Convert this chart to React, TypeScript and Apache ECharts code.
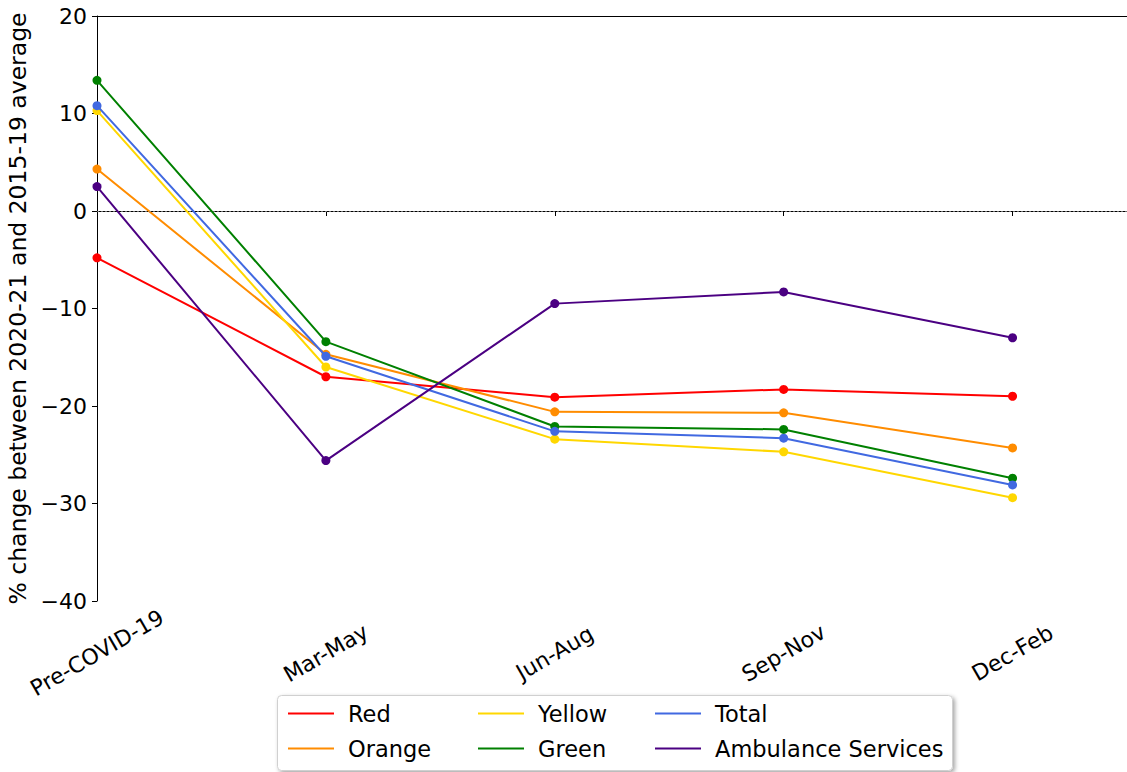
import React, { useEffect, useRef } from "react";
import * as echarts from "echarts";

const categories = ["Pre-COVID-19", "Mar-May", "Jun-Aug", "Sep-Nov", "Dec-Feb"];
const redValues = [-4.8, -17.0, -19.1, -18.3, -19.0];
const orangeValues = [4.3, -14.7, -20.6, -20.7, -24.3];
const yellowValues = [10.3, -16.0, -23.4, -24.7, -29.4];
const greenValues = [13.4, -13.4, -22.1, -22.4, -27.4];
const totalValues = [10.8, -14.9, -22.6, -23.3, -28.1];
const ambulanceValues = [2.5, -25.6, -9.5, -8.3, -13.0];
const yTicks = [-40, -30, -20, -10, 0, 10, 20];

const seriesDefs = [
  { name: "Red", values: redValues, color: "#ff0000" },
  { name: "Orange", values: orangeValues, color: "#ff8c00" },
  { name: "Yellow", values: yellowValues, color: "#ffd700" },
  { name: "Green", values: greenValues, color: "#008000" },
  { name: "Total", values: totalValues, color: "#4169e1" },
  { name: "Ambulance Services", values: ambulanceValues, color: "#4b0082" },
];

const FONT = "DejaVu Sans";

export default function App() {
  const ref = useRef<HTMLDivElement>(null);
  useEffect(() => {
    if (!ref.current) return;
    const chart = echarts.init(ref.current, null, { renderer: "svg" });
    const series: any[] = seriesDefs.map((s, i) => ({
      name: s.name,
      type: "line",
      data: s.values.map((v, idx) => [idx, v]),
      symbol: "circle",
      symbolSize: 9,
      itemStyle: { color: s.color },
      lineStyle: { color: s.color, width: 2 },
      z: 3 + i,
      ...(i === 0
        ? {
            markLine: {
              silent: true,
              symbol: "none",
              label: { show: false },
              lineStyle: { color: "#888", width: 0.8, type: [2, 2] },
              data: [{ yAxis: 0 }],
            },
          }
        : {}),
    }));
    const legendCommon = {
      orient: "vertical",
      top: 697,
      itemWidth: 46,
      itemHeight: 2,
      itemGap: 12,
      icon: "rect",
      textStyle: { fontFamily: FONT, fontSize: 22.5, color: "#000", padding: [0, 0, 0, 9] },
    };
    chart.setOption({
      animation: false,
      textStyle: { fontFamily: FONT },
      grid: { left: 97, right: 0, top: 16, bottom: 171, outerBoundsMode: "none", containLabel: false },
      xAxis: [
        {
          type: "value",
          min: 0,
          max: 4.5,
          interval: 1,
          splitLine: { show: false },
          axisLine: { show: true, lineStyle: { color: "#000", width: 1 } },
          axisTick: { show: true, length: 5, lineStyle: { color: "#000" } },
          axisLabel: {
            rotate: 30,
            align: "center",
            verticalAlign: "middle",
            fontSize: 22,
            color: "#000",
            fontFamily: FONT,
            margin: 52,
            showMaxLabel: false,
            formatter: (v: number) => (Number.isInteger(v) && categories[v] ? categories[v] : ""),
          },
        },
        {
          type: "value",
          position: "top",
          min: 0,
          max: 4.5,
          splitLine: { show: false },
          axisLine: { show: true, lineStyle: { color: "#000", width: 1 } },
          axisTick: { show: false },
          axisLabel: { show: false },
        },
      ],
      yAxis: {
        type: "value",
        min: yTicks[0],
        max: yTicks[yTicks.length - 1],
        interval: 10,
        splitLine: { show: false },
        axisLine: { show: true, lineStyle: { color: "#000", width: 1 } },
        axisTick: { show: true, length: 5, lineStyle: { color: "#000" } },
        axisLabel: {
          fontSize: 22,
          color: "#000",
          fontFamily: FONT,
          margin: 10,
          formatter: (v: number) => (v < 0 ? "\u2212" + Math.abs(v) : String(v)),
        },
        name: "% change between 2020-21 and 2015-19 average",
        nameLocation: "middle",
        nameGap: 60,
        nameTextStyle: { fontSize: 23.5, color: "#000", fontFamily: FONT },
      },
      legend: [
        { ...legendCommon, left: 283, data: ["Red", "Orange"] },
        { ...legendCommon, left: 473, data: ["Yellow", "Green"] },
        { ...legendCommon, left: 650, data: ["Total", "Ambulance Services"] },
      ],
      graphic: [
        {
          type: "rect",
          left: 277,
          top: 695,
          shape: { width: 675, height: 75, r: 4 },
          style: {
            fill: "#fff",
            stroke: "#d0d0d0",
            lineWidth: 1,
            shadowBlur: 4,
            shadowOffsetX: 2,
            shadowOffsetY: 2,
            shadowColor: "rgba(0,0,0,0.35)",
          },
          z: -1,
        },
      ],
      series,
    });
    return () => chart.dispose();
  }, []);
  return (
    <div
      ref={ref}
      style={{ position: "fixed", left: 0, top: 0, width: 1127, height: 772, background: "#fff" }}
    />
  );
}
